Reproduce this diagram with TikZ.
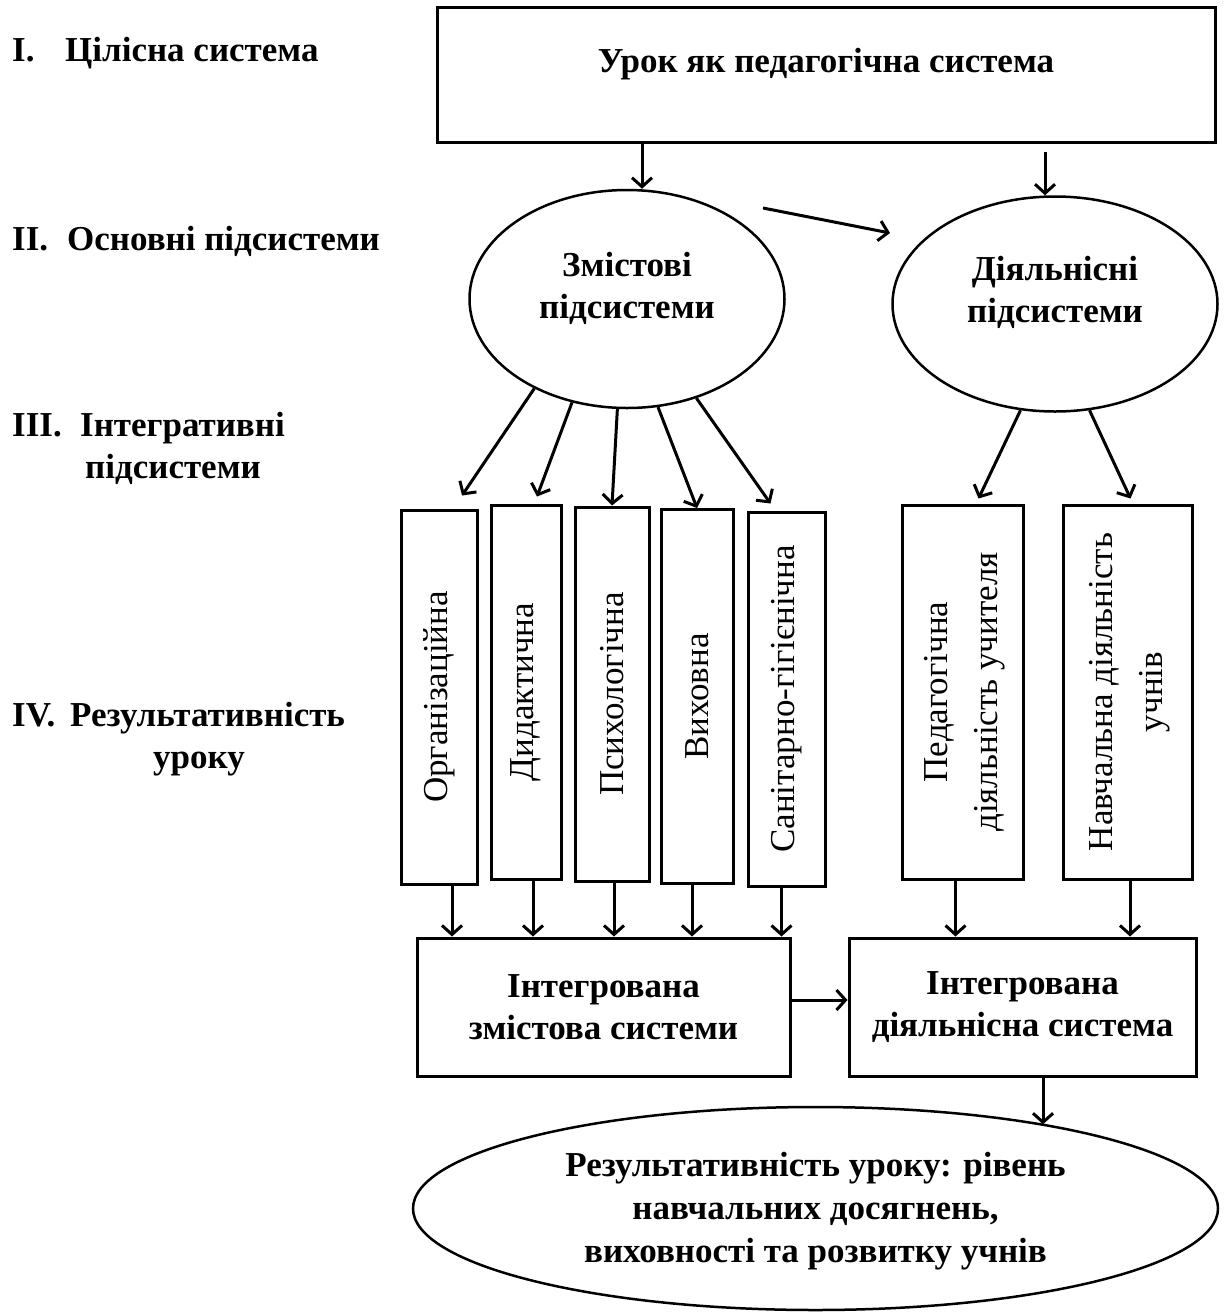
\documentclass[tikz,border=0pt]{standalone}
\usepackage{fontspec}
\setmainfont{Liberation Serif}
\usetikzlibrary{arrows.meta, shapes.geometric, calc, positioning}
\newcommand{\hdfont}{\fontsize{35}{42}\selectfont\bfseries}
\newcommand{\vtfont}{\fontsize{35}{50}\selectfont}
\newcommand{\lift}[2]{\raisebox{#1}[\height][\depth]{#2}}
\tikzset{
  box/.style={draw, line width=3pt, inner sep=0pt, align=center, font=\hdfont},
  tall/.style={draw, line width=3pt, inner sep=0pt, minimum height=374pt, font=\vtfont},
  oval/.style={draw, ellipse, line width=2.5pt, inner sep=0pt, align=center, font=\hdfont},
  lvl/.style={anchor=base west, align=left, inner sep=0pt, font=\hdfont},
  arr/.style={line width=3pt, -{Straight Barb[length=9pt,width=20pt]}},
}

\begin{document}
\begin{tikzpicture}[x=1pt,y=-1pt]
\useasboundingbox (0,0) rectangle (1227,1312);

% levels (base = last line)
\node[lvl] (l1) at (12,61) {\makebox[53pt][l]{I.}Цілісна система};
\node[lvl] (l2) at (12,250) {\makebox[55pt][l]{II.}Основні підсистеми};
\node[lvl] (l3) at (12,478) {\makebox[68pt][l]{III.}Інтегративні\\\hspace*{73pt}підсистеми};
\node[lvl] (l4) at (12,768) {\makebox[58pt][l]{IV.}Результативність\\\hspace*{141pt}уроку};

% whole and subsystems
\node[box, minimum width=778pt, minimum height=135pt] (urok) at (826,74.5) {\lift{10pt}{Урок як педагогічна система}};
\node[oval, minimum width=315pt, minimum height=218pt] (zmist) at (627,299)
  {\lift{10pt}{\begin{tabular}{@{}c@{}}Змістові\\підсистеми\end{tabular}}};
\node[oval, minimum width=325pt, minimum height=215pt] (diyal) at (1055,304)
  {\lift{11pt}{\begin{tabular}{@{}c@{}}Діяльнісні\\підсистеми\end{tabular}}};

\node[tall, minimum width=76pt] (org) at (439,697) {\rotatebox{90}{Організаційна}};
\node[tall, minimum width=70pt] (dyd) at (526,692) {\rotatebox{90}{Дидактична}};
\node[tall, minimum width=74pt] (psy) at (612,694) {\rotatebox{90}{Психологічна}};
\node[tall, minimum width=72pt] (vykh) at (697,696.5) {\rotatebox{90}{Виховна}};
\node[tall, minimum width=77pt] (san) at (786.5,699) {\rotatebox{90}{Санітарно-гігієнічна}};
\node[tall, minimum width=121pt] (ped) at (962.5,692)
  {\rotatebox{90}{\begin{tabular}{@{}c@{}}Педагогічна\\діяльність учителя\end{tabular}}};
\node[tall, minimum width=129pt] (navch) at (1127.5,692)
  {\rotatebox{90}{\begin{tabular}{@{}c@{}}Навчальна діяльність\\учнів\end{tabular}}};

\node[box, minimum width=373pt, minimum height=138pt] (intz) at (603.5,1007) {Інтегрована\\змістова системи};
\node[box, minimum width=347pt, minimum height=138pt] (intd) at (1022.5,1007) {Інтегрована\\діяльнісна система};
\node[oval, minimum width=805pt, minimum height=203pt] (res) at (815.5,1208.5)
  {\lift{-3pt}{\begin{tabular}{@{}c@{}}Результативність уроку: рівень\\[1pt]навчальних досягнень,\\[1pt]виховності та розвитку учнів\end{tabular}}};

% connectors
\coordinate (d1) at (763,208);
\coordinate (d2) at (890,233);
\draw[arr] ([xshift=-184pt]urok.south) -- ([xshift=15pt]zmist.north);
\draw[arr, shorten <=8pt] ([xshift=219pt]urok.south) -- ([xshift=-10pt]diyal.north);
\draw[arr] (d1) -- (d2);

\draw[arr] (zmist.224) -- ([xshift=23pt,yshift=13pt]org.north);
\draw[arr] (zmist.242.6) -- ([xshift=11pt,yshift=7pt]dyd.north);
\draw[arr] (zmist.265) -- (psy.north);
\draw[arr] (zmist.286) -- (vykh.north);
\draw[arr] (zmist.305) -- ([xshift=-16pt,yshift=7pt]san.north);
\draw[arr] (diyal.252) -- ([xshift=16pt,yshift=5pt]ped.north);
\draw[arr] (diyal.288) -- ([xshift=3pt,yshift=5pt]navch.north);

\foreach \b/\s in {org/13, dyd/7, psy/2, vykh/-5, san/-5}
  \draw[arr] ([xshift=\s pt]\b.south) -- ([xshift=\s pt]\b.south |- intz.north);
\foreach \b/\s in {ped/-7, navch/2.5}
  \draw[arr] ([xshift=\s pt]\b.south) -- ([xshift=\s pt]\b.south |- intd.north);

\draw[arr] ([yshift=7pt]intz.east) -- ([yshift=7pt]intd.west);
\draw[arr] ([xshift=20.5pt]intd.south) -- ([xshift=20.5pt]intd.south |- res.20);
\end{tikzpicture}
\end{document}
